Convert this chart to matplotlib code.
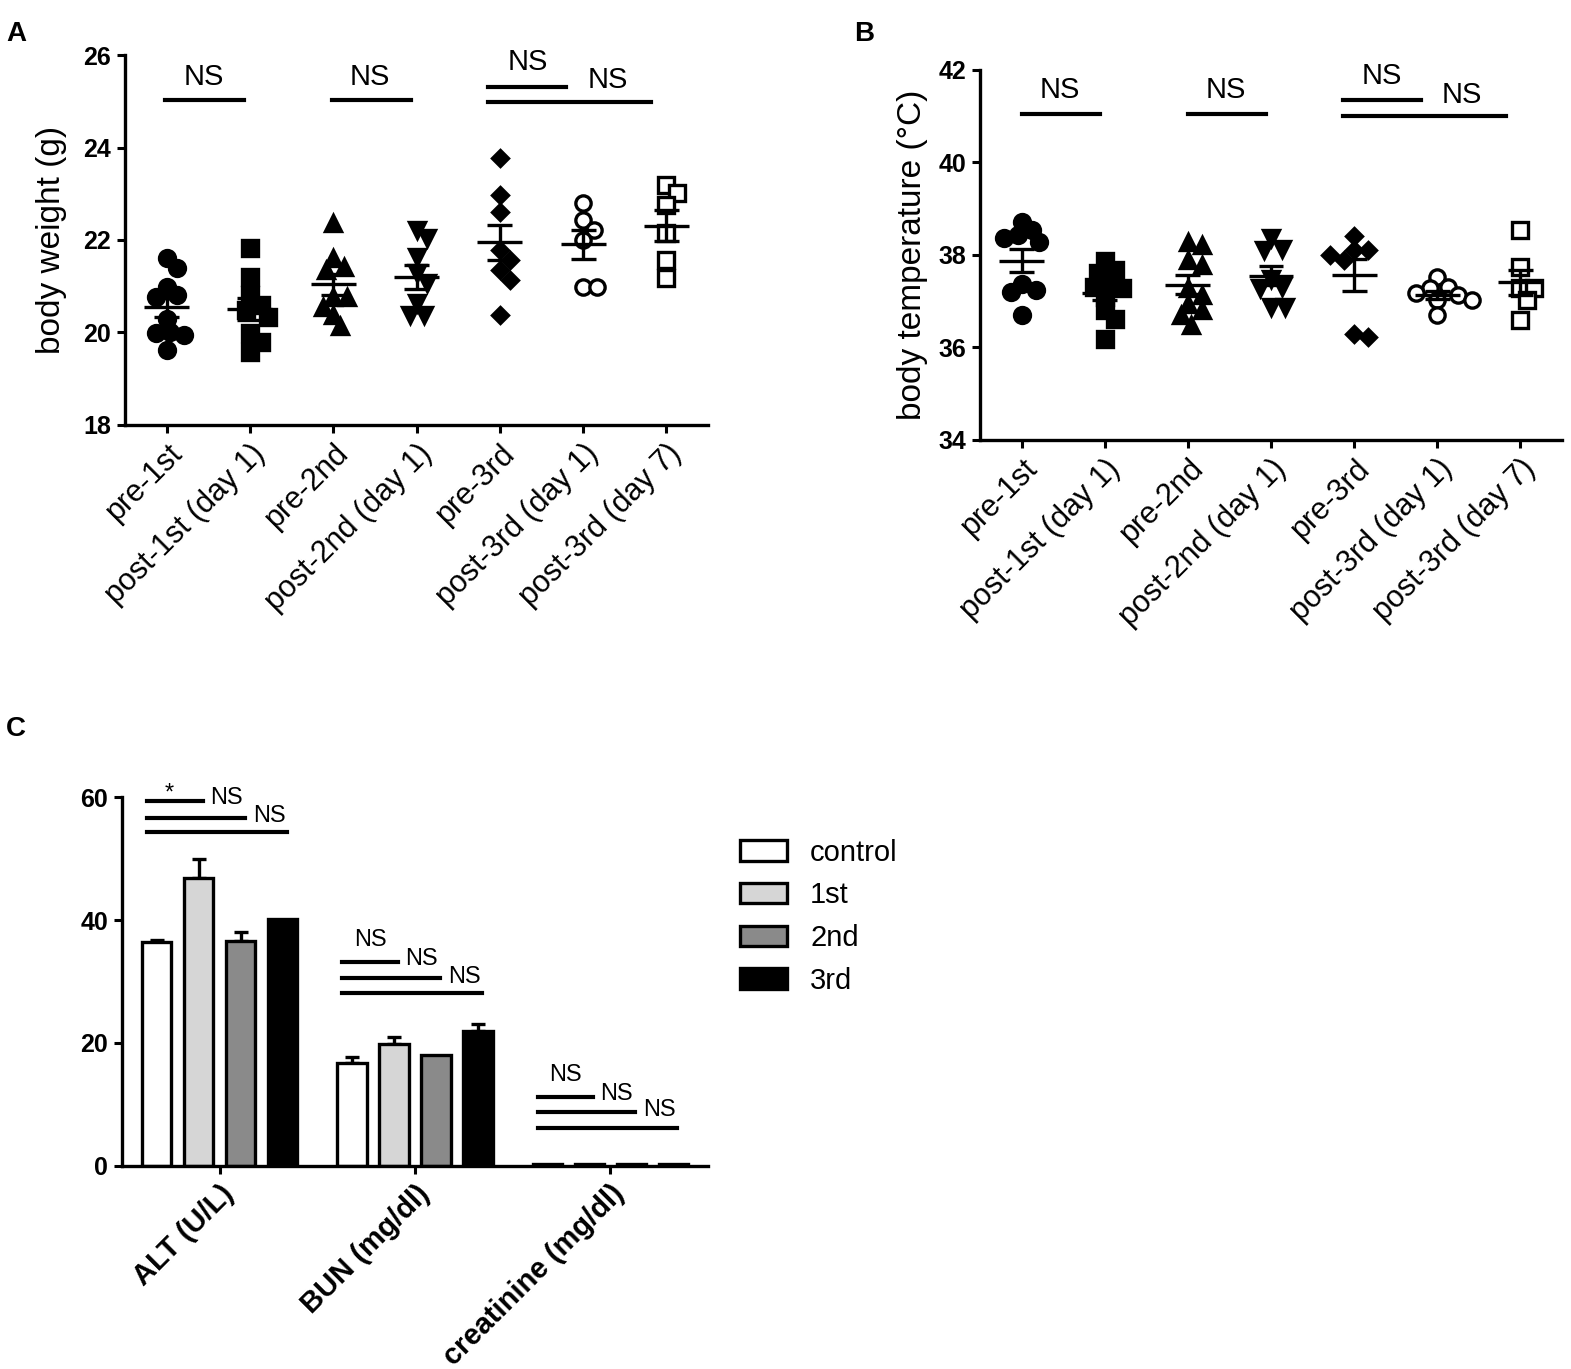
import numpy as np
import matplotlib.pyplot as plt
from matplotlib.patches import Patch

plt.rcParams['font.family'] = ['Liberation Sans', 'DejaVu Sans']

# ---- data ----
groups = ['pre-1st', 'post-1st (day 1)', 'pre-2nd', 'post-2nd (day 1)',
          'pre-3rd', 'post-3rd (day 1)', 'post-3rd (day 7)']
markers = ['o', 's', '^', 'v', 'D', 'o', 's']
filled = [True, True, True, True, True, False, False]
msizes = [11.5, 11, 11.5, 11.5, 8, 11, 11]

weight = [
    [21.60, 21.39, 20.99, 20.81, 20.77, 20.30, 20.02, 19.98, 19.95, 19.62],
    [21.82, 21.21, 20.81, 20.59, 20.49, 20.34, 19.98, 19.80, 19.58],
    [22.36, 21.60, 21.42, 21.35, 20.77, 20.77, 20.56, 20.38, 20.13],
    [22.22, 22.04, 21.64, 21.28, 21.06, 20.63, 20.38, 20.38],
    [23.77, 22.97, 22.61, 21.78, 21.57, 21.35, 21.14, 20.38],
    [22.79, 22.43, 22.22, 22.00, 20.99, 20.99],
    [23.19, 23.01, 22.76, 22.15, 21.57, 21.17],
]

temperature = [
    [38.72, 38.54, 38.43, 38.36, 38.29, 37.38, 37.24, 37.20, 36.70],
    [37.86, 37.67, 37.60, 37.42, 37.31, 37.28, 37.09, 36.80, 36.62, 36.19],
    [38.29, 38.22, 37.89, 37.78, 37.28, 37.13, 36.95, 36.80, 36.70, 36.48],
    [38.36, 38.14, 38.11, 37.49, 37.31, 37.28, 36.88, 36.88],
    [38.40, 38.11, 38.11, 37.89, 38.00, 36.30, 36.22],
    [37.53, 37.31, 37.28, 37.17, 37.13, 37.02, 37.02, 36.70],
    [38.54, 37.75, 37.28, 37.28, 37.02, 36.59],
]

# significance lines: (start, end, height), labels: (x, y, text)
sig_a_lines = [(-0.02, 0.93, 25.03), (1.98, 2.93, 25.03), (3.86, 4.80, 25.31), (3.86, 5.82, 24.98)]
sig_a_text = [(0.44, 25.52, 'NS'), (2.44, 25.52, 'NS'), (4.33, 25.84, 'NS'), (5.30, 25.45, 'NS')]
sig_b_lines = [(0.0, 0.94, 41.05), (2.0, 2.94, 41.05), (3.86, 4.80, 41.35), (3.86, 5.82, 41.0)]
sig_b_text = [(0.46, 41.56, 'NS'), (2.46, 41.56, 'NS'), (4.33, 41.86, 'NS'), (5.30, 41.46, 'NS')]

chem_labels = ['ALT (U/L)', 'BUN (mg/dl)', 'creatinine (mg/dl)']
series = ['control', '1st', '2nd', '3rd']
bar_colors = ['white', '#d6d6d6', '#8a8a8a', 'black']
control = [36.5, 16.8, 0.25]
first = [46.8, 19.8, 0.25]
second = [36.6, 18.1, 0.25]
third = [40.2, 22.0, 0.25]
control_err = [0.3, 1.0, 0.0]
first_err = [3.2, 1.1, 0.0]
second_err = [1.4, 0.0, 0.0]
third_err = [0.0, 1.1, 0.0]

sig_c_heights = [[59.4, 56.6, 54.3], [33.2, 30.5, 28.1], [11.2, 8.8, 6.2]]
sig_c_text = [['*', 'NS', 'NS'], ['NS', 'NS', 'NS'], ['NS', 'NS', 'NS']]


def swarm(vals, ypx, xpx=83.0, diam=13.0):
    # simple beeswarm offsets (category units)
    placed = []
    offs = []
    cand = [0]
    for k in range(1, 12):
        cand += [k * 3.5, -k * 3.5]
    for v in vals:
        yy = v * ypx
        for c in cand:
            if all((c - px) ** 2 + (yy - py) ** 2 >= diam ** 2 for px, py in placed):
                break
        placed.append((c, yy))
        offs.append(c / xpx)
    return np.array(offs)


def style_axes(ax):
    for s in ['top', 'right']:
        ax.spines[s].set_visible(False)
    for s in ['left', 'bottom']:
        ax.spines[s].set_linewidth(2.4)
    ax.tick_params(width=2.2, length=6, pad=4)


def dot_panel(ax, data, ypx, ylim, yticks, ylabel, lines, texts):
    for i, vals in enumerate(data):
        vals = np.array(vals)
        xs = i + swarm(vals, ypx)
        fc = 'black' if filled[i] else 'white'
        ax.plot(xs, vals, linestyle='none', marker=markers[i], ms=msizes[i],
                mfc=fc, mec='black', mew=2.4, zorder=3)
        m = vals.mean()
        sem = vals.std(ddof=1) / np.sqrt(len(vals))
        ax.hlines(m, i - 0.27, i + 0.27, color='black', lw=2.4, zorder=4)
        ax.vlines(i, m - sem, m + sem, color='black', lw=2.4, zorder=4)
        ax.hlines([m - sem, m + sem], i - 0.15, i + 0.15, color='black', lw=2.4, zorder=4)
    for x0, x1, h in lines:
        ax.plot([x0, x1], [h, h], color='black', lw=3, clip_on=False)
    for x, y, t in texts:
        ax.text(x, y, t, ha='center', va='center', fontsize=21)
    ax.set_xlim(-0.5, 6.5)
    ax.set_ylim(*ylim)
    ax.set_yticks(yticks)
    ax.set_xticks(range(len(groups)))
    ax.set_xticklabels(groups, rotation=45, ha='right', va='top',
                       rotation_mode='anchor', fontsize=22)
    for lab in ax.get_yticklabels():
        lab.set_fontweight('bold')
        lab.set_fontsize(18)
    ax.set_ylabel(ylabel, fontsize=24)
    style_axes(ax)


fig = plt.figure(figsize=(15.71, 13.69), dpi=100)

axA = fig.add_axes([0.0796, 0.6896, 0.3711, 0.2702])
dot_panel(axA, weight, 46.25, (18, 26), [18, 20, 22, 24, 26], 'body weight (g)',
          sig_a_lines, sig_a_text)
axA.yaxis.set_label_coords(-0.10, 0.5)

axB = fig.add_axes([0.6238, 0.6786, 0.3705, 0.2703])
dot_panel(axB, temperature, 46.25, (34, 42), [34, 36, 38, 40, 42], 'body temperature (°C)',
          sig_b_lines, sig_b_text)
axB.yaxis.set_label_coords(-0.09, 0.5)

# panel C
axC = fig.add_axes([0.0777, 0.1483, 0.3730, 0.2695])
step = 0.215
width = 0.15
vals_all = [control, first, second, third]
errs_all = [control_err, first_err, second_err, third_err]
xg = np.arange(len(chem_labels))
for k in range(4):
    xs = xg + (k - 1.5) * step
    axC.bar(xs, vals_all[k], width=width, color=bar_colors[k], edgecolor='black',
            linewidth=2.4, zorder=2)
    err = np.array(errs_all[k])
    has = err > 0
    axC.errorbar(xs[has], np.array(vals_all[k])[has], yerr=[np.zeros(has.sum()), err[has]],
                 fmt='none', ecolor='black', elinewidth=2.4, capsize=5, capthick=2.4, zorder=1)

for g in range(3):
    start = g - 1.5 * step - 0.05
    hs = sig_c_heights[g]
    ends = [g + (k - 1.5) * step + 0.02 for k in (1, 2, 3)]
    for e, h in zip(ends, hs):
        axC.plot([start, e], [h, h], color='black', lw=3, clip_on=False)
    t = sig_c_text[g]
    if t[0] == '*':
        axC.text((start + ends[0]) / 2 - 0.03, hs[0] + 1.2, '*', ha='center', va='center', fontsize=17)
    else:
        axC.text((start + ends[0]) / 2, hs[0] + 3.6, t[0], ha='center', va='center', fontsize=17)
    axC.text(ends[0] + 0.12, hs[0] + 0.5, t[1], ha='center', va='center', fontsize=17)
    axC.text(ends[1] + 0.125, hs[1] + 0.3, t[2], ha='center', va='center', fontsize=17)

axC.set_xlim(-0.5, 2.5)
axC.set_ylim(0, 60)
axC.set_yticks([0, 20, 40, 60])
axC.set_xticks(xg)
axC.set_xticklabels(chem_labels, rotation=45, ha='right', va='top',
                    rotation_mode='anchor', fontsize=21, fontweight='bold')
for lab in axC.get_yticklabels():
    lab.set_fontweight('bold')
    lab.set_fontsize(18)
style_axes(axC)

handles = [Patch(facecolor=c, edgecolor='black', linewidth=2.4) for c in bar_colors]
fig.legend(handles, series, loc='upper left', bbox_to_anchor=(0.4544, 0.4065),
           frameon=False, fontsize=21, handlelength=1.6, handleheight=0.7,
           handletextpad=0.8, labelspacing=0.5)

fig.text(0.004, 0.985, 'A', fontsize=20, fontweight='bold', va='top')
fig.text(0.544, 0.985, 'B', fontsize=20, fontweight='bold', va='top')
fig.text(0.004, 0.477, 'C', fontsize=20, fontweight='bold', va='top')

fig.savefig('out.png', dpi=100)
